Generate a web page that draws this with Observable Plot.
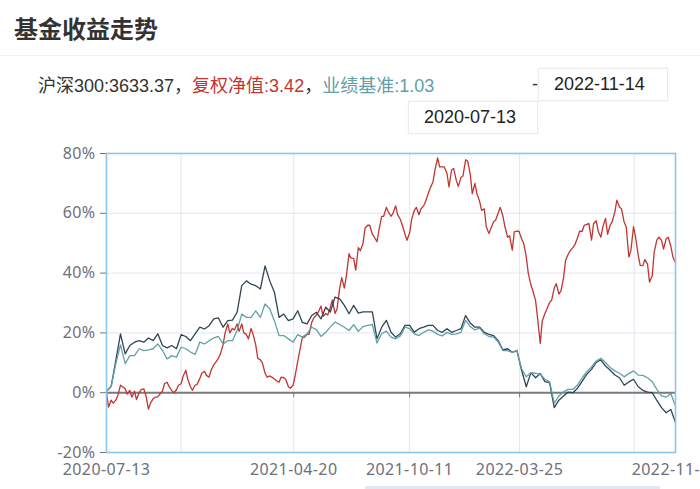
<!DOCTYPE html>
<html>
<head>
<meta charset="utf-8">
<script src="https://cdn.jsdelivr.net/npm/d3@7"></script>
<script src="https://cdn.jsdelivr.net/npm/@observablehq/plot@0.6"></script>
<style>
  html, body { margin: 0; padding: 0; background: #fff; }
  body { width: 700px; height: 489px; overflow: hidden; position: relative;
         font-family: "Liberation Sans", Arial, "Noto Sans CJK SC", sans-serif; color: #333; }
  #title { position: absolute; left: 14px; top: 16px; font-family: "Noto Sans CJK SC", sans-serif;
           font-weight: bold; font-size: 24px; line-height: 24px; color: #333; white-space: nowrap; }
  #sep { position: absolute; left: 0; top: 55px; width: 700px; height: 1px; background: #f2f2f2; }
  #info { position: absolute; left: 38px; top: 75px; font-size: 18px; line-height: 18px; white-space: nowrap; }
  #info .cjk { font-family: "Noto Sans CJK SC", sans-serif; }
  #dash { position: absolute; left: 532px; top: 75px; font-size: 18px; line-height: 18px; }
  .datebox { position: absolute; width: 130px; height: 33px; box-sizing: border-box;
             border: 1px solid #ececec; box-shadow: 0 0 3px rgba(0,0,0,0.06); background: #fff;
             font-size: 18px; line-height: 31px; padding-left: 15px; color: #222; }
  #zoombar { position: absolute; left: 365px; top: 486px; width: 295px; height: 10px; background: #e1e8f2; }
  #chart { position: absolute; left: 0; top: 140px; }
</style>
</head>
<body>
<div id="title">基金收益走势</div>
<div id="sep"></div>
<div id="info"></div>
<div id="dash">-</div>
<div class="datebox" id="endBox" style="left:538px; top:68px;"></div>
<div class="datebox" id="startBox" style="left:408px; top:101px;"></div>
<div id="chart"></div>
<div id="zoombar"></div>
<script>
// ---- data: cumulative return in % ----
// Monday samples (all three series)
const dates = [
  "2020-07-13","2020-07-20","2020-07-27","2020-08-03","2020-08-10","2020-08-17","2020-08-24","2020-08-31",
  "2020-09-07","2020-09-14","2020-09-21","2020-09-28","2020-10-05","2020-10-12","2020-10-19","2020-10-26",
  "2020-11-02","2020-11-09","2020-11-16","2020-11-23","2020-11-30","2020-12-07","2020-12-14","2020-12-21",
  "2020-12-28",
  "2021-01-04","2021-01-11","2021-01-18","2021-01-25","2021-02-01","2021-02-08","2021-02-15","2021-02-22",
  "2021-03-01","2021-03-08","2021-03-15","2021-03-22","2021-03-29","2021-04-05","2021-04-12","2021-04-19",
  "2021-04-26","2021-05-03","2021-05-10","2021-05-17","2021-05-24","2021-05-31","2021-06-07","2021-06-14",
  "2021-06-21","2021-06-28","2021-07-05","2021-07-12","2021-07-19","2021-07-26","2021-08-02","2021-08-09",
  "2021-08-16","2021-08-23","2021-08-30","2021-09-06","2021-09-13","2021-09-20","2021-09-27","2021-10-04",
  "2021-10-11","2021-10-18","2021-10-25","2021-11-01","2021-11-08","2021-11-15","2021-11-22","2021-11-29",
  "2021-12-06","2021-12-13","2021-12-20","2021-12-27",
  "2022-01-03","2022-01-10","2022-01-17","2022-01-24","2022-01-31","2022-02-07","2022-02-14","2022-02-21",
  "2022-02-28","2022-03-07","2022-03-14","2022-03-21","2022-03-28","2022-04-04","2022-04-11","2022-04-18",
  "2022-04-25","2022-05-02","2022-05-09","2022-05-16","2022-05-23","2022-05-30","2022-06-06","2022-06-13",
  "2022-06-20","2022-06-27","2022-07-04","2022-07-11","2022-07-18","2022-07-25","2022-08-01","2022-08-08",
  "2022-08-15","2022-08-22","2022-08-29","2022-09-05","2022-09-12","2022-09-19","2022-09-26","2022-10-03",
  "2022-10-10","2022-10-17","2022-10-24","2022-10-31","2022-11-07","2022-11-14"
];
// extra Thursday samples for the more jagged fund line
const thuDates = [
  "2020-07-16","2020-07-23","2020-07-30","2020-08-06","2020-08-13","2020-08-20","2020-08-27","2020-09-03",
  "2020-09-10","2020-09-17","2020-09-24","2020-10-01","2020-10-08","2020-10-15","2020-10-22","2020-10-29",
  "2020-11-05","2020-11-12","2020-11-19","2020-11-26","2020-12-03","2020-12-10","2020-12-17","2020-12-24",
  "2020-12-31",
  "2021-01-07","2021-01-14","2021-01-21","2021-01-28","2021-02-04","2021-02-11","2021-02-18","2021-02-25",
  "2021-03-04","2021-03-11","2021-03-18","2021-03-25","2021-04-01","2021-04-08","2021-04-15","2021-04-22",
  "2021-04-29","2021-05-06","2021-05-13","2021-05-20","2021-05-27","2021-06-03","2021-06-10","2021-06-17",
  "2021-06-24","2021-07-01","2021-07-08","2021-07-15","2021-07-22","2021-07-29","2021-08-05","2021-08-12",
  "2021-08-19","2021-08-26","2021-09-02","2021-09-09","2021-09-16","2021-09-23","2021-09-30","2021-10-07",
  "2021-10-14","2021-10-21","2021-10-28","2021-11-04","2021-11-11","2021-11-18","2021-11-25","2021-12-02",
  "2021-12-09","2021-12-16","2021-12-23","2021-12-30",
  "2022-01-06","2022-01-13","2022-01-20","2022-01-27","2022-02-03","2022-02-10","2022-02-17","2022-02-24",
  "2022-03-03","2022-03-10","2022-03-17","2022-03-24","2022-03-31","2022-04-07","2022-04-14","2022-04-21",
  "2022-04-28","2022-05-05","2022-05-12","2022-05-19","2022-05-26","2022-06-02","2022-06-09","2022-06-16",
  "2022-06-23","2022-06-30","2022-07-07","2022-07-14","2022-07-21","2022-07-28","2022-08-04","2022-08-11",
  "2022-08-18","2022-08-25","2022-09-01","2022-09-08","2022-09-15","2022-09-22","2022-09-29","2022-10-06",
  "2022-10-13","2022-10-20","2022-10-27","2022-11-03","2022-11-10"
];

// 复权净值 (red), Mondays
const fundNav = [
  0, -2.5, -2.5, 2.5, 1.3, 0.8, 0.5, 0, 1.3, -5.5, -2.0, -1.4, 0.5, 3.5, 0.7, 1.0, 3.0, 7.5, 2.0, 2.5, 4.7, 7.2, 5.2, 9.3, 11.5,
  16, 23, 21.5, 23, 23, 19.5, 21.5, 16, 11, 6.5, 5.6, 4.6, 3.5, 5, 2, 2.5, 10.5, 18.5, 19.5, 23.5, 26, 29, 26.5, 28.6, 26.5,
  35, 35, 46.5, 44.9, 48.5, 50, 56, 53, 50.5, 59, 62, 59, 62.5, 58, 53, 53.5, 61, 59.5, 62.5, 66.7, 70.5, 78.5, 75.5, 73.4, 74.5,
  71, 72, 77.9, 73, 70, 64, 61.5, 53.2, 57.2, 60.2, 59, 52, 47.7, 54, 51.5, 45.5, 36, 30.8, 16.5, 26.5, 30.2, 35, 33, 38.5, 46.3,
  48.5, 51.8, 54, 56.3, 51, 57.5, 52, 58.3, 56, 60.5, 62, 57, 45.4, 55.5, 46, 42.5, 43, 39, 51, 51, 51.5, 49, 43.5
];
// 复权净值 (red), Thursdays
const fundNavThu = [
  -4.8, -3.5, -0.9, 2.0, -0.5, -1.5, -2.3, 1.0, -0.8, -3.5, -1.5, -0.5, 3.0, 2.0, 0.0, 2.5, 5.5, 4.5, 0.8, 2.8, 6.5, 5.8, 7.5, 10.2, 13,
  20, 20, 21, 20.5, 20, 18, 19.5, 11.5, 10, 5.2, 5.2, 4.0, 5.2, 4.5, 1.5, 5.5, 14, 18.5, 19.5, 25, 27, 25.5, 26, 31, 28,
  38.5, 39, 45, 41, 47.5, 55, 56, 52, 54.5, 59, 60.5, 60, 59.5, 56, 51, 58, 62, 61.5, 64, 68.5, 74.5, 75.5, 75.5, 68.8, 75,
  69, 72.5, 77.5, 66.5, 66.5, 61, 55.5, 55, 57.7, 62, 55.5, 52.5, 53.8, 54, 50, 40, 34, 25, 24, 28, 30.9, 36.5, 34, 44.3, 47.5,
  49.5, 54, 56, 56.6, 56.5, 54, 55.5, 53, 57.2, 64.4, 61.5, 55.5, 47.5, 52.1, 42.6, 44.5, 37, 47, 52, 48, 52, 45.5
];

// 沪深300 (dark), Mondays
const hs300 = [
  0.5, 2.1, 10.8, 19.7, 13, 15.8, 16.9, 17.4, 16.9, 18.3, 17.4, 19.7, 15.8, 15, 15.8, 14.7, 19.4, 18.8, 17.4, 19.7, 21.9, 21.3, 22.4, 24.7, 25,
  21.9, 24.1, 24.3, 26.9, 35.8, 37.4, 36.3, 35.8, 34.7, 42.4, 37.4, 33.6, 25.2, 26.3, 24.1, 24.7, 27.4, 23.5, 23, 25.8, 26.9, 24.7, 28.6, 27, 32,
  31.4, 29.2, 26.4, 29.2, 26.6, 27, 27, 27, 18, 21.9, 24.2, 20.2, 18.6, 19.7, 22.5, 22.5, 20.2, 21.4, 21.9, 22.5, 22.5, 20.8, 20.2, 21.4, 20.2,
  20.8, 21.4, 25.8, 23.3, 21.9, 21.9, 20.2, 19.5, 19.1, 17.4, 14.3, 14.7, 13.5, 14.1, 7.5, 2, 6.7, 5, 6.4, 3.7, 3.4, -5.0, -2.5, -1.1, 0.2,
  0, 1.5, 3.9, 6.2, 7.8, 10.1, 11.0, 8.9, 7.5, 5.9, 5, 2.5, 3.6, 4.5, 2, 0.8, 0.2, 0, -2.6, -5, -6.7, -5.6, -10
];

// 业绩基准 (teal), Mondays
const benchmark = [
  0.5, 2.1, 9.7, 16, 9.7, 12.4, 12.4, 14.7, 14.1, 14.3, 14.7, 16.3, 14.1, 11.3, 12.4, 11.9, 15.2, 14.7, 13.6, 12.8, 16.9, 16.3, 17.4, 18.3, 18.8,
  16.3, 17.4, 17.4, 20.8, 26.3, 25.2, 25.2, 27.4, 25.2, 29.7, 28, 24.1, 19.1, 19.1, 18, 16.9, 19.4, 18.6, 19.7, 21.9, 21.1, 18.8, 20.2, 22, 23.6,
  22.8, 21.9, 20.8, 22.8, 20.5, 22.1, 22.5, 22.8, 16.6, 19.7, 20.6, 18.6, 18, 19, 21.9, 21.4, 19.7, 19.1, 20.2, 21, 20.6, 19.5, 19, 20.2, 19.5,
  19.7, 20.2, 24.2, 22.1, 21, 21.6, 19.7, 18.8, 18.6, 16.9, 14.1, 14.1, 13.5, 14.1, 8, 5.3, 6.7, 6.5, 6.2, 4.5, 3.7, -3.5, -1.1, 0.3, 1.1,
  1.1, 2.6, 5, 7, 8.6, 10.6, 11.5, 10.1, 8.4, 7.3, 6.5, 5.3, 6.4, 7.3, 5.9, 5.8, 5, 3.7, 1.1, -1.1, -1.5, -0.3, -4.5
];

const yTicks = [-20, 0, 20, 40, 60, 80];
const xTickLabels = ["2020-07-13", "2021-04-20", "2021-10-11", "2022-03-25", "2022-11-14"];
const xGridDates = ["2020-11-02", "2021-04-20", "2021-10-11", "2022-03-25", "2022-09-13"];

const summary = [
  {label: "沪深300", value: "3633.37", color: "#333333"},
  {label: "复权净值", value: "3.42", color: "#c23531"},
  {label: "业绩基准", value: "1.03", color: "#61a0a8"}
];
const rangeStart = "2020-07-13";
const rangeEnd = "2022-11-14";
const colors = {fund: "#c23531", hs300: "#2f4554", bench: "#61a0a8"};

// ---- header ----
const info = document.getElementById("info");
summary.forEach((s, i) => {
  const span = document.createElement("span");
  span.style.color = s.color;
  span.innerHTML = s.label.replace(/([\u4e00-\u9fff]+)/g, '<span class="cjk">$1</span>') + ":" + s.value;
  info.appendChild(span);
  if (i < summary.length - 1) {
    const c = document.createElement("span");
    c.className = "cjk";
    c.style.color = "#333";
    c.textContent = "，";
    info.appendChild(c);
  }
});
document.getElementById("endBox").textContent = rangeEnd;
document.getElementById("startBox").textContent = rangeStart;

// ---- chart ----
const parse = d3.utcParse("%Y-%m-%d");
const mk = (ds, vals) => ds.map((d, i) => ({date: parse(d), v: vals[i]}));
const fundRows = mk(dates, fundNav).concat(mk(thuDates, fundNavThu)).sort((a, b) => a.date - b.date);
const hsRows = mk(dates, hs300), benchRows = mk(dates, benchmark);
const gridDates = xGridDates.map(parse);
const tickDates = xTickLabels.map(parse);
const fmt = d3.utcFormat("%Y-%m-%d");

const chart = Plot.plot({
  width: 700,
  height: 349,
  marginLeft: 106,
  marginRight: 25,
  marginTop: 13,
  marginBottom: 37,
  style: {fontFamily: "'Noto Sans', sans-serif", fontSize: "16px", color: "#6e7079",
          background: "transparent", letterSpacing: "0.4px"},
  x: {type: "utc", domain: [parse(dates[0]), parse(dates[dates.length - 1])],
      ticks: tickDates, tickFormat: fmt, tickSize: 0, tickPadding: 11, label: null},
  y: {domain: [-20, 80], ticks: yTicks, tickFormat: d => d + "%", tickSize: 6, tickPadding: 5, label: null},
  marks: [
    Plot.ruleY(yTicks.filter(v => v > -20 && v < 80 && v !== 0), {stroke: "#e0e6f1", strokeWidth: 1}),
    Plot.ruleX(gridDates, {stroke: "#e0e6f1", strokeWidth: 1}),
    Plot.ruleY([0], {stroke: "#7a7a7a", strokeWidth: 2}),
    Plot.ruleX(gridDates.slice(1, 4), {y1: 0, y2: 0, insetBottom: -5, stroke: "#7a7a7a", strokeWidth: 1}),
    Plot.line(fundRows, {x: "date", y: "v", stroke: colors.fund, strokeWidth: 1.3}),
    Plot.line(hsRows, {x: "date", y: "v", stroke: colors.hs300, strokeWidth: 1.3}),
    Plot.line(benchRows, {x: "date", y: "v", stroke: colors.bench, strokeWidth: 1.3}),
    Plot.frame({stroke: "#8cc3ef", strokeWidth: 1.6})
  ]
});
document.getElementById("chart").appendChild(chart);
</script>
</body>
</html>
